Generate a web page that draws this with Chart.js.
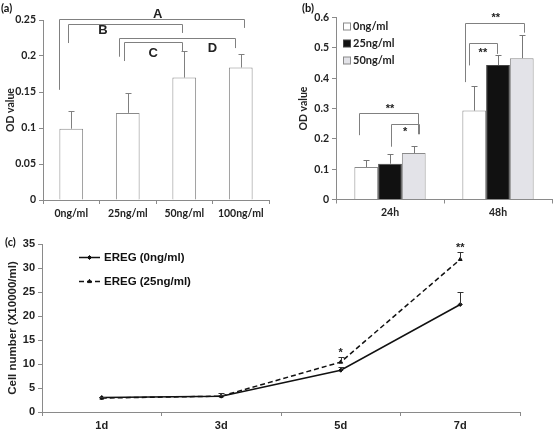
<!DOCTYPE html>
<html>
<head>
<meta charset="utf-8">
<script src="https://cdn.jsdelivr.net/npm/chart.js@4.4.1/dist/chart.umd.min.js"></script>
<style>
  html, body { margin: 0; padding: 0; background: #fff; }
  #wrap { position: relative; width: 556px; height: 431px; overflow: hidden; }
  #wrap canvas { position: absolute; }
</style>
</head>
<body>
<div id="wrap">
  <canvas id="chartA" width="280" height="222" style="left:0;top:0"></canvas>
  <canvas id="chartB" width="278" height="222" style="left:278px;top:0"></canvas>
  <canvas id="chartC" width="556" height="205" style="left:0;top:226px"></canvas>
</div>
<script>
/* ---------- data ---------- */
// (a) OD by dose
const doseLabels = ['0ng/ml', '25ng/ml', '50ng/ml', '100ng/ml'];
const doseOD     = [0.099, 0.121, 0.170, 0.184];
const doseSD     = [0.025, 0.027, 0.037, 0.019];
const doseTicks  = [0, 0.05, 0.1, 0.15, 0.2, 0.25];

// (b) OD by time and dose
const timeLabels = ['24h', '48h'];
const groupNames = ['0ng/ml', '25ng/ml', '50ng/ml'];
const od0   = [0.107, 0.293];
const sd0   = [0.024, 0.082];
const od25  = [0.118, 0.443];
const sd25  = [0.033, 0.034];
const od50  = [0.153, 0.466];
const sd50  = [0.025, 0.075];
const odTicks = [0, 0.1, 0.2, 0.3, 0.4, 0.5, 0.6];

// (c) cell number by day
const dayLabels  = ['1d', '3d', '5d', '7d'];
const seriesC    = ['EREG (0ng/ml)', 'EREG (25ng/ml)'];
const cells0     = [3.0, 3.3, 8.7, 22.4];
const cellsErr0  = [0.2, 0.3, 0.6, 2.6];
const cells25    = [2.9, 3.3, 10.4, 31.8];
const cellsErr25 = [0.2, 0.7, 1.1, 1.6];
const cellTicks  = [0, 5, 10, 15, 20, 25, 30, 35];

// significance brackets (x in category units, y in data units)
const bracketsA = [
  { text: 'A', x0: -0.21, x1: 3.05, y: 0.251, leg0: 0.153, leg1: 0.239, tx: 1.53, ty: 0.258 },
  { text: 'B', x0: -0.05, x1: 1.96, y: 0.244, leg0: 0.218, leg1: 0.232, tx: 0.56, ty: 0.235 },
  { text: 'C', x0: 0.93,  x1: 1.96, y: 0.219, leg0: 0.193, leg1: 0.206, tx: 1.45, ty: 0.204 },
  { text: 'D', x0: 0.85,  x1: 2.89, y: 0.2246, leg0: 0.199, leg1: 0.211, tx: 2.5, ty: 0.211 }
];
const bracketsB = [
  { text: '**', x0: -0.29, x1: 0.255, y: 0.284, leg0: 0.212, leg1: 0.215, tx: 0.0,  ty: 0.300 },
  { text: '*',  x0: 0.006, x1: 0.27,  y: 0.248, leg0: 0.174, leg1: 0.215, tx: 0.14, ty: 0.224 },
  { text: '**', x0: 0.69,  x1: 1.24,  y: 0.583, leg0: 0.387, leg1: 0.550, tx: 0.98, ty: 0.600 },
  { text: '**', x0: 0.73,  x1: 0.99,  y: 0.517, leg0: 0.442, leg1: 0.480, tx: 0.86, ty: 0.484 }
];
const starsC = [
  { text: '*',  x: 2, y: 12.4 },
  { text: '**', x: 3, y: 34.2 }
];

/* ---------- plugins ---------- */
const errorBars = {
  id: 'errorBars',
  afterDatasetsDraw(chart) {
    const ctx = chart.ctx, y = chart.scales.y;
    chart.data.datasets.forEach((ds, i) => {
      if (!ds.errorBars) return;
      const meta = chart.getDatasetMeta(i);
      ctx.save();
      ctx.strokeStyle = ds.errorColor || '#777';
      ctx.lineWidth = 1;
      meta.data.forEach((el, j) => {
        const top = Math.round(y.getPixelForValue(ds.data[j] + ds.errorBars[j])) + 0.5;
        const x = Math.round(el.x) + 0.5;
        ctx.beginPath();
        ctx.moveTo(x, el.y); ctx.lineTo(x, top);
        ctx.moveTo(x - 3, top); ctx.lineTo(x + 3, top);
        ctx.stroke();
      });
      ctx.restore();
    });
  }
};

const brackets = {
  id: 'brackets',
  afterDraw(chart, args, opts) {
    const { ctx, scales: { x, y } } = chart;
    ctx.save();
    ctx.strokeStyle = opts.color || '#777';
    ctx.lineWidth = 1;
    ctx.fillStyle = '#222';
    ctx.font = opts.font;
    ctx.textAlign = 'center';
    ctx.textBaseline = 'middle';
    (opts.items || []).forEach(b => {
      const x0 = Math.round(x.getPixelForValue(b.x0)) + 0.5;
      const x1 = Math.round(x.getPixelForValue(b.x1)) + 0.5;
      const yl = Math.round(y.getPixelForValue(b.y)) + 0.5;
      ctx.beginPath();
      ctx.moveTo(x0, y.getPixelForValue(b.leg0));
      ctx.lineTo(x0, yl);
      ctx.lineTo(x1, yl);
      ctx.lineTo(x1, y.getPixelForValue(b.leg1));
      ctx.stroke();
      ctx.fillText(b.text, x.getPixelForValue(b.tx), y.getPixelForValue(b.ty));
    });
    (opts.stars || []).forEach(s => {
      ctx.fillText(s.text, x.getPixelForValue(s.x), y.getPixelForValue(s.y));
    });
    ctx.restore();
  }
};

const panelTag = {
  id: 'panelTag',
  afterDraw(chart, args, opts) {
    const ctx = chart.ctx;
    ctx.save();
    ctx.fillStyle = '#111';
    ctx.font = opts.font;
    ctx.textBaseline = 'middle';
    ctx.fillText(opts.text, opts.x, opts.y);
    ctx.restore();
  }
};

const boxLegend = {
  id: 'boxLegend',
  afterDraw(chart, args, opts) {
    if (!opts.show) return;
    const { ctx, chartArea } = chart;
    ctx.save();
    ctx.font = opts.font;
    ctx.textBaseline = 'middle';
    chart.data.datasets.forEach((ds, i) => {
      const bx = chartArea.left + opts.dx, by = chartArea.top + opts.dy + i * opts.gap;
      ctx.fillStyle = ds.backgroundColor;
      ctx.strokeStyle = ds.borderColor;
      ctx.lineWidth = 1;
      ctx.fillRect(bx + 0.5, by - 3.5, 7, 7);
      ctx.strokeRect(bx + 0.5, by - 3.5, 7, 7);
      ctx.fillStyle = '#222';
      ctx.fillText(ds.label, bx + 10, by);
    });
    ctx.restore();
  }
};

const lineLegend = {
  id: 'lineLegend',
  afterDraw(chart, args, opts) {
    if (!opts.show) return;
    const { ctx, chartArea } = chart;
    ctx.save();
    ctx.font = opts.font;
    ctx.textBaseline = 'middle';
    chart.data.datasets.forEach((ds, i) => {
      const lx = chartArea.left + opts.dx, ly = Math.round(chartArea.top + opts.dy + i * opts.gap) + 0.5;
      ctx.strokeStyle = ds.borderColor;
      ctx.fillStyle = ds.backgroundColor;
      ctx.lineWidth = ds.borderWidth;
      ctx.setLineDash(ds.borderDash || []);
      ctx.beginPath();
      ctx.moveTo(lx, ly); ctx.lineTo(lx + opts.len, ly);
      ctx.stroke();
      ctx.setLineDash([]);
      ctx.lineWidth = 1;
      Chart.helpers.drawPoint(ctx, {
        pointStyle: ds.pointStyle, radius: ds.pointRadius, rotation: 0, borderWidth: 1
      }, lx + opts.len / 2, ly);
      ctx.fillStyle = '#111';
      ctx.fillText(ds.label, lx + opts.len + 4, ly);
    });
    ctx.restore();
  }
};

/* ---------- shared axis pieces ---------- */
const labelFont = { family: 'Lato', weight: 'bold', size: 10.5 };
const axisColor = '#8a8a8a';

function xAxis(height, font) {
  return {
    grid: { display: true, drawOnChartArea: false, drawTicks: true, tickLength: 4, color: axisColor, offset: true },
    border: { color: axisColor, width: 1 },
    ticks: { color: '#222', font: font, padding: 3, maxRotation: 0 },
    afterFit: s => { s.height = height; }
  };
}
function yAxis(width, ticks, title, font, titleFont, titlePad) {
  return {
    min: ticks[0], max: ticks[ticks.length - 1],
    grid: { display: true, drawOnChartArea: false, drawTicks: true, tickLength: 4, color: axisColor },
    border: { color: axisColor, width: 1 },
    ticks: { color: '#222', font: font, padding: 3, callback: v => String(+(+v).toFixed(2)) },
    afterBuildTicks: s => { s.ticks = ticks.map(v => ({ value: v })); },
    title: { display: true, text: title, color: '#222', font: titleFont, padding: { top: titlePad, bottom: 0 } },
    afterFit: s => { s.width = width; }
  };
}

/* ---------- (a) ---------- */
new Chart(document.getElementById('chartA'), {
  type: 'bar',
  data: {
    labels: doseLabels,
    datasets: [{
      data: doseOD, errorBars: doseSD, errorColor: '#808080',
      backgroundColor: '#fff', borderColor: '#8a8a8a', borderWidth: 1,
      barPercentage: 0.42, categoryPercentage: 1
    }]
  },
  options: {
    responsive: false, animation: false,
    layout: { padding: { top: 20, right: 11, left: 0, bottom: 0 } },
    plugins: {
      legend: { display: false }, tooltip: { enabled: false },
      brackets: { items: bracketsA, font: 'bold 13px "Liberation Sans"', color: '#808080' },
      panelTag: { text: '(a)', x: 1, y: 8, font: 'bold 11px Lato' }
    },
    scales: {
      x: xAxis(22, labelFont),
      y: yAxis(43, doseTicks, 'OD value', labelFont, labelFont, 4)
    }
  },
  plugins: [errorBars, brackets, panelTag]
});

/* ---------- (b) ---------- */
new Chart(document.getElementById('chartB'), {
  type: 'bar',
  data: {
    labels: timeLabels,
    datasets: [
      { label: groupNames[0], data: od0, errorBars: sd0, backgroundColor: '#ffffff', borderColor: '#8a8a8a', borderWidth: 1 },
      { label: groupNames[1], data: od25, errorBars: sd25, backgroundColor: '#111111', borderColor: '#444444', borderWidth: 1 },
      { label: groupNames[2], data: od50, errorBars: sd50, backgroundColor: '#e3e3e8', borderColor: '#8a8a8a', borderWidth: 1 }
    ]
  },
  options: {
    responsive: false, animation: false,
    datasets: { bar: { barPercentage: 1, categoryPercentage: 0.66 } },
    layout: { padding: { top: 17.5, right: 4, left: 0, bottom: 0 } },
    plugins: {
      legend: { display: false }, tooltip: { enabled: false },
      brackets: { items: bracketsB, font: 'bold 11px "Liberation Sans"', color: '#808080' },
      boxLegend: { show: true, dx: 7, dy: 9, gap: 17, font: 'bold 11px Lato' },
      panelTag: { text: '(b)', x: 24, y: 8, font: 'bold 11px Lato' }
    },
    scales: {
      x: xAxis(22.5, labelFont),
      y: yAxis(58, odTicks, 'OD value', labelFont, labelFont, 19)
    }
  },
  plugins: [errorBars, brackets, boxLegend, panelTag]
});

/* ---------- (c) ---------- */
const cFont = { family: 'Liberation Sans', weight: 'bold', size: 11 };
new Chart(document.getElementById('chartC'), {
  type: 'line',
  data: {
    labels: dayLabels,
    datasets: [
      { label: seriesC[0], data: cells0, errorBars: cellsErr0, errorColor: '#333',
        borderColor: '#111', backgroundColor: '#111', borderWidth: 1.5,
        pointStyle: 'rectRot', pointRadius: 2, pointBorderWidth: 1, tension: 0 },
      { label: seriesC[1], data: cells25, errorBars: cellsErr25, errorColor: '#333',
        borderColor: '#111', backgroundColor: '#111', borderWidth: 1.5, borderDash: [5, 3],
        pointStyle: 'triangle', pointRadius: 2.2, pointBorderWidth: 1, tension: 0 }
    ]
  },
  options: {
    responsive: false, animation: false,
    layout: { padding: { top: 18, right: 36, left: 0, bottom: 0 } },
    plugins: {
      legend: { display: false }, tooltip: { enabled: false },
      brackets: { items: [], stars: starsC, font: 'bold 11px "Liberation Sans"' },
      lineLegend: { show: true, dx: 37, dy: 13, gap: 24, len: 21, font: 'bold 11.5px "Liberation Sans"' },
      panelTag: { text: '(c)', x: 5, y: 16, font: 'bold 11px Lato' }
    },
    scales: {
      x: Object.assign(xAxis(19, cFont), { offset: true }),
      y: yAxis(42, cellTicks, 'Cell number (X10000/ml)', cFont, { family: 'Liberation Sans', weight: 'bold', size: 11.5 }, 6)
    }
  },
  plugins: [errorBars, brackets, lineLegend, panelTag]
});
</script>
</body>
</html>
